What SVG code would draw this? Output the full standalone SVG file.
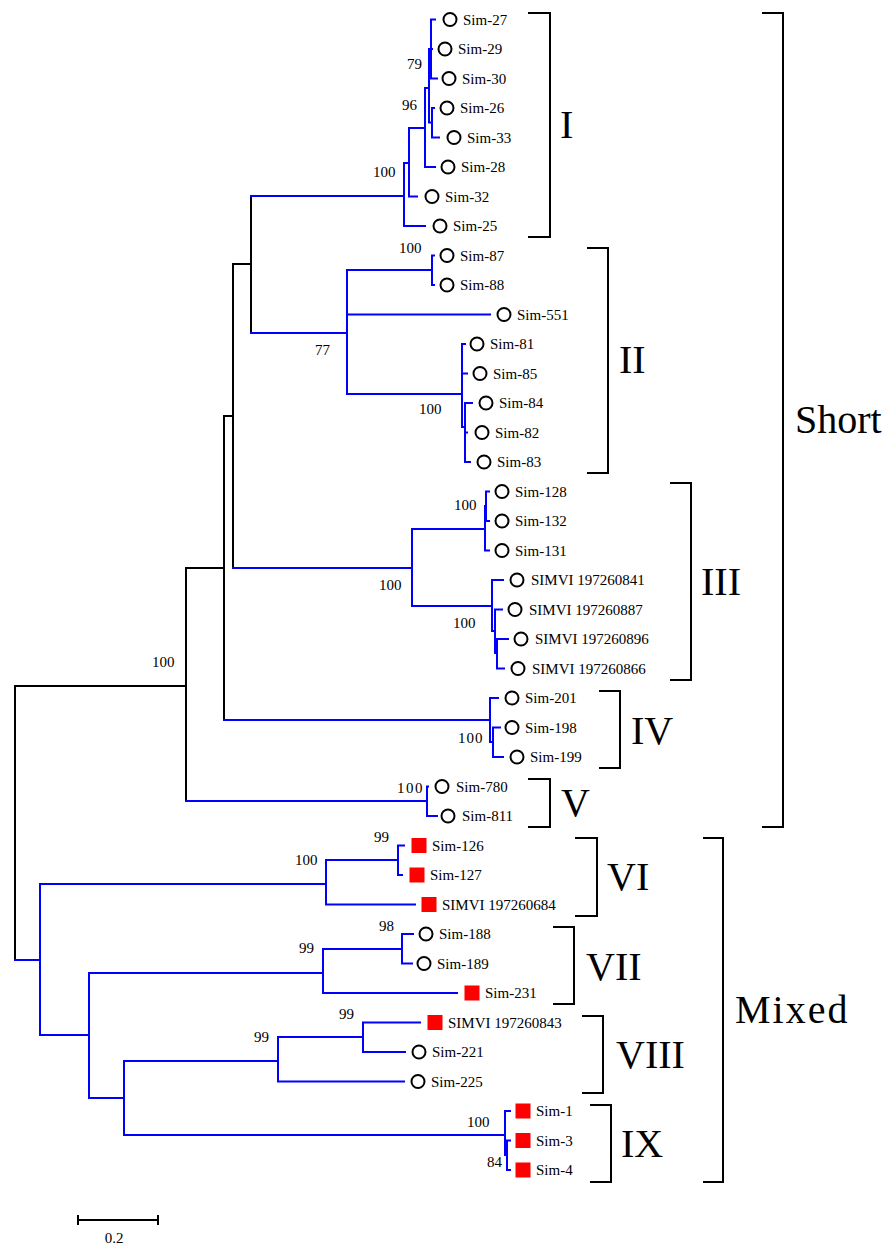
<svg xmlns="http://www.w3.org/2000/svg" width="883" height="1246" viewBox="0 0 883 1246">
<style>
.k{stroke:#000;stroke-width:2;fill:none;stroke-linecap:square}
.b{stroke:#0000ff;stroke-width:2;fill:none;stroke-linecap:square}
.br{stroke:#000;stroke-width:2;fill:none}
.c{fill:#fff;stroke:#000;stroke-width:2}
.s{fill:#ff0000}
text{font-family:"Liberation Serif","Times New Roman",serif;fill:#000}
.t{font-size:15px}
.bs{font-size:15px}
.cl{font-size:40px}
</style>
<rect width="883" height="1246" fill="#fff"/>
<g id="connectors">
<path class="k" d="M15 686H186M15 686V960M186 568V801M186 568H224M224 416V720M224 416H233M233 264V568M233 264H251M251 196V333"/>
<path class="b" d="M251 196H404M251 333H347M233 568H412M224 720H490M186 801H427M15 960H40M40 884V1035M40 884H326M40 1035H89M89 973V1098M89 973H323M89 1098H124M124 1061V1135M124 1061H278M124 1135H505"/>
<path class="b" d="M404 163V226M404 226H425M404 163H409M409 128V196.5M409 196.5H417M409 128H425M425 88V167M425 167H435M425 88H429M429 49V122.5M429 49H431M431 19.5V78.5M431 19.5H435M431 49H432M431 78.5H437M429 122.5H432M432 108V137.5M432 108H434M432 137.5H439"/>
<path class="b" d="M347 270V394M347 270H432M432 255.5V285M432 255.5H434M432 285H434M347 314.5H490M347 394H462M462 344V427M462 344H465M462 373.5H467M462 427H465M465 403V462M465 403H472M465 432.5H467M465 462H470"/>
<path class="b" d="M412 529V606M412 529H485M485 506V550.5M485 506H486M486 491.5V521M486 491.5H489M486 521H489M485 550.5H489M412 606H492M492 580V631M492 580H503M492 631H495M495 609.5V653M495 609.5H502M495 653H497M497 639V668.5M497 639H508M497 668.5H504"/>
<path class="b" d="M490 698V742M490 698H498M490 742H493M493 727.5V757M493 727.5H500M493 757H503M427 786.5V816M427 786.5H428M427 816H437"/>
<path class="b" d="M326 860V904.5M326 860H398M398 845.5V875M398 845.5H404M398 875H402M326 904.5H415M323 949V993M323 949H402M402 934V963.5M402 934H413M402 963.5H412M323 993H457"/>
<path class="b" d="M278 1037V1081.5M278 1037H363M363 1022.5V1052M363 1022.5H420M363 1052H405M278 1081.5H404M505 1111V1155M505 1111H510M505 1155H507M507 1140.5V1170M507 1140.5H510M507 1170H510"/>
</g>
<g id="leaves">
<g id="n-sim27"><circle class="c" cx="450" cy="19.5" r="6.5"/><text class="t" x="463" y="24.5">Sim-27</text></g>
<g id="n-sim29"><circle class="c" cx="445" cy="49" r="6.5"/><text class="t" x="458" y="54">Sim-29</text></g>
<g id="n-sim30"><circle class="c" cx="449" cy="78.5" r="6.5"/><text class="t" x="462" y="83.5">Sim-30</text></g>
<g id="n-sim26"><circle class="c" cx="447" cy="108" r="6.5"/><text class="t" x="460" y="113">Sim-26</text></g>
<g id="n-sim33"><circle class="c" cx="454" cy="137.5" r="6.5"/><text class="t" x="467" y="142.5">Sim-33</text></g>
<g id="n-sim28"><circle class="c" cx="448" cy="167" r="6.5"/><text class="t" x="461" y="172">Sim-28</text></g>
<g id="n-sim32"><circle class="c" cx="432" cy="196.5" r="6.5"/><text class="t" x="445" y="201.5">Sim-32</text></g>
<g id="n-sim25"><circle class="c" cx="440" cy="226" r="6.5"/><text class="t" x="453" y="231">Sim-25</text></g>
<g id="n-sim87"><circle class="c" cx="447" cy="255.5" r="6.5"/><text class="t" x="460" y="260.5">Sim-87</text></g>
<g id="n-sim88"><circle class="c" cx="447" cy="285" r="6.5"/><text class="t" x="460" y="290">Sim-88</text></g>
<g id="n-sim551"><circle class="c" cx="504" cy="314.5" r="6.5"/><text class="t" x="517" y="319.5">Sim-551</text></g>
<g id="n-sim81"><circle class="c" cx="477" cy="344" r="6.5"/><text class="t" x="490" y="349">Sim-81</text></g>
<g id="n-sim85"><circle class="c" cx="480" cy="373.5" r="6.5"/><text class="t" x="493" y="378.5">Sim-85</text></g>
<g id="n-sim84"><circle class="c" cx="486" cy="403" r="6.5"/><text class="t" x="499" y="408">Sim-84</text></g>
<g id="n-sim82"><circle class="c" cx="482" cy="432.5" r="6.5"/><text class="t" x="495" y="437.5">Sim-82</text></g>
<g id="n-sim83"><circle class="c" cx="484" cy="462" r="6.5"/><text class="t" x="497" y="467">Sim-83</text></g>
<g id="n-sim128"><circle class="c" cx="502" cy="491.5" r="6.5"/><text class="t" x="515" y="496.5">Sim-128</text></g>
<g id="n-sim132"><circle class="c" cx="502" cy="521" r="6.5"/><text class="t" x="515" y="526">Sim-132</text></g>
<g id="n-sim131"><circle class="c" cx="502" cy="550.5" r="6.5"/><text class="t" x="515" y="555.5">Sim-131</text></g>
<g id="n-simvi841"><circle class="c" cx="517" cy="580" r="6.5"/><text class="t" x="531" y="585">SIMVI 197260841</text></g>
<g id="n-simvi887"><circle class="c" cx="515" cy="609.5" r="6.5"/><text class="t" x="529" y="614.5">SIMVI 197260887</text></g>
<g id="n-simvi896"><circle class="c" cx="521" cy="639" r="6.5"/><text class="t" x="535" y="644">SIMVI 197260896</text></g>
<g id="n-simvi866"><circle class="c" cx="518" cy="668.5" r="6.5"/><text class="t" x="532" y="673.5">SIMVI 197260866</text></g>
<g id="n-sim201"><circle class="c" cx="512" cy="698" r="6.5"/><text class="t" x="525" y="703">Sim-201</text></g>
<g id="n-sim198"><circle class="c" cx="512" cy="727.5" r="6.5"/><text class="t" x="525" y="732.5">Sim-198</text></g>
<g id="n-sim199"><circle class="c" cx="517" cy="757" r="6.5"/><text class="t" x="530" y="762">Sim-199</text></g>
<g id="n-sim780"><circle class="c" cx="442" cy="786.5" r="6.5"/><text class="t" x="456" y="791.5">Sim-780</text></g>
<g id="n-sim811"><circle class="c" cx="448" cy="816" r="6.5"/><text class="t" x="462" y="821">Sim-811</text></g>
<g id="n-sim126"><rect class="s" x="411.5" y="838" width="15" height="15"/><text class="t" x="432" y="850.5">Sim-126</text></g>
<g id="n-sim127"><rect class="s" x="409.5" y="867.5" width="15" height="15"/><text class="t" x="430" y="880">Sim-127</text></g>
<g id="n-simvi684"><rect class="s" x="421.5" y="897" width="15" height="15"/><text class="t" x="442" y="909.5">SIMVI 197260684</text></g>
<g id="n-sim188"><circle class="c" cx="426" cy="934" r="6.5"/><text class="t" x="439" y="939">Sim-188</text></g>
<g id="n-sim189"><circle class="c" cx="424" cy="963.5" r="6.5"/><text class="t" x="437" y="968.5">Sim-189</text></g>
<g id="n-sim231"><rect class="s" x="464.5" y="985.5" width="15" height="15"/><text class="t" x="485" y="998">Sim-231</text></g>
<g id="n-simvi843"><rect class="s" x="427.5" y="1015" width="15" height="15"/><text class="t" x="448" y="1027.5">SIMVI 197260843</text></g>
<g id="n-sim221"><circle class="c" cx="419" cy="1052" r="6.5"/><text class="t" x="432" y="1057">Sim-221</text></g>
<g id="n-sim225"><circle class="c" cx="418" cy="1081.5" r="6.5"/><text class="t" x="431" y="1086.5">Sim-225</text></g>
<g id="n-sim1"><rect class="s" x="515.5" y="1103.5" width="15" height="15"/><text class="t" x="536" y="1116">Sim-1</text></g>
<g id="n-sim3"><rect class="s" x="515.5" y="1133" width="15" height="15"/><text class="t" x="536" y="1145.5">Sim-3</text></g>
<g id="n-sim4"><rect class="s" x="515.5" y="1162.5" width="15" height="15"/><text class="t" x="536" y="1175">Sim-4</text></g>
</g>
<g id="bootstrap">
<text class="bs" x="407" y="69">79</text>
<text class="bs" x="402" y="110">96</text>
<text class="bs" x="373" y="177">100</text>
<text class="bs" x="399" y="253">100</text>
<text class="bs" x="315" y="355">77</text>
<text class="bs" x="419" y="414">100</text>
<text class="bs" x="454" y="510">100</text>
<text class="bs" x="379" y="590">100</text>
<text class="bs" x="453" y="628">100</text>
<text class="bs" x="152" y="667">100</text>
<text class="bs" x="458" y="743" letter-spacing="1">100</text>
<text class="bs" x="397" y="793" letter-spacing="1.5">100</text>
<text class="bs" x="374" y="842">99</text>
<text class="bs" x="295" y="865">100</text>
<text class="bs" x="379" y="931">98</text>
<text class="bs" x="299" y="953">99</text>
<text class="bs" x="339" y="1019">99</text>
<text class="bs" x="254" y="1042">99</text>
<text class="bs" x="467" y="1127">100</text>
<text class="bs" x="487" y="1167">84</text>
</g>
<g id="brackets">
<path class="br" d="M528 13H550V237H528"/>
<path class="br" d="M587 248H608V473H587"/>
<path class="br" d="M670 483H691V680H670"/>
<path class="br" d="M599 691H620V768H599"/>
<path class="br" d="M528 779H550V827H528"/>
<path class="br" d="M762 13H783V827H762"/>
<path class="br" d="M575 838H597V916H575"/>
<path class="br" d="M553 927H574V1004H553"/>
<path class="br" d="M582 1016H603V1093H582"/>
<path class="br" d="M590 1105H611V1182H590"/>
<path class="br" d="M703 838H723V1182H703"/>
</g>
<g id="clade-labels">
<text class="cl" x="560" y="138">I</text>
<text class="cl" x="619" y="373">II</text>
<text class="cl" x="701" y="595">III</text>
<text class="cl" x="631" y="744">IV</text>
<text class="cl" x="561" y="816">V</text>
<text class="cl" x="607" y="890">VI</text>
<text class="cl" x="586" y="980">VII</text>
<text class="cl" x="616" y="1068">VIII</text>
<text class="cl" x="621" y="1157">IX</text>
<text class="cl" x="795" y="433">Short</text>
<text class="cl" x="735" y="1023" letter-spacing="2">Mixed</text>
</g>
<g id="scale">
<path class="br" d="M78 1220H158M78 1215V1225M158 1215V1225"/>
<text class="bs" x="114" y="1243" text-anchor="middle" font-size="14">0.2</text>
</g>
</svg>
